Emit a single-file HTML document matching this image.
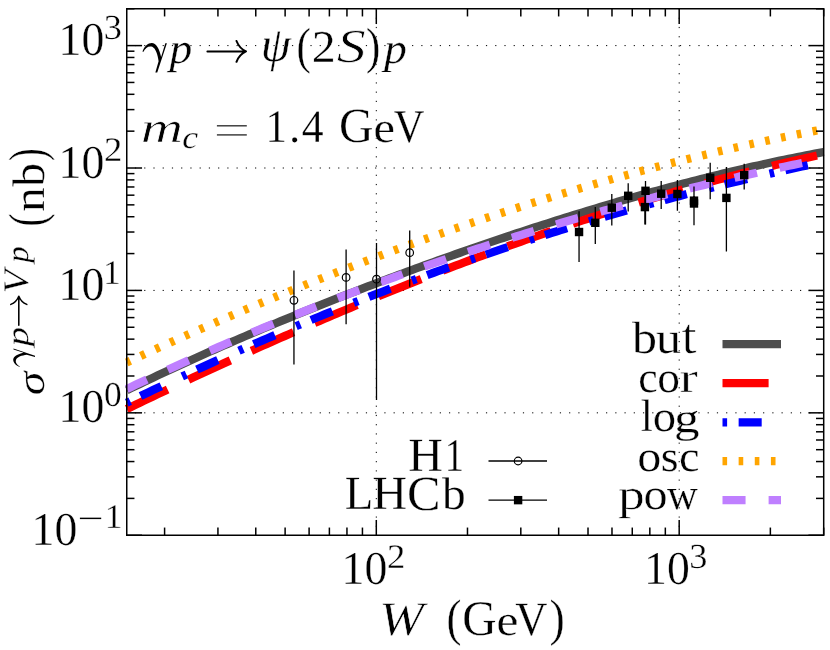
<!DOCTYPE html>
<html><head><meta charset="utf-8"><title>chart</title>
<style>html,body{margin:0;padding:0;background:#fff;}svg{display:block;}text{font-family:"Liberation Serif",serif;fill:#000;text-rendering:geometricPrecision;stroke:#fff;stroke-width:0.3px;paint-order:fill stroke;}</style></head><body>
<svg width="830" height="650" viewBox="0 0 830 650">
<rect x="0" y="0" width="830" height="650" fill="#fff"/>
<defs><clipPath id="ax"><rect x="123.75" y="8.75" width="700.75" height="526.50"/></clipPath><filter id="gs" x="0" y="0" width="830" height="650" filterUnits="userSpaceOnUse" color-interpolation-filters="sRGB"><feColorMatrix type="saturate" values="0"/></filter></defs>
<g stroke="#000" stroke-width="1.0" fill="none" stroke-dasharray="1.2,8.037">
<line x1="376.30" y1="535.25" x2="376.30" y2="8.75" stroke-dashoffset="0.9"/>
<line x1="679.19" y1="535.25" x2="679.19" y2="8.75" stroke-dashoffset="0.9"/>
<line x1="126.75" y1="412.84" x2="823.7" y2="412.84" stroke-dashoffset="1.05"/>
<line x1="126.75" y1="290.42" x2="823.7" y2="290.42" stroke-dashoffset="1.05"/>
<line x1="126.75" y1="168.01" x2="823.7" y2="168.01" stroke-dashoffset="1.05"/>
<line x1="126.75" y1="45.60" x2="823.7" y2="45.60" stroke-dashoffset="1.05"/>
</g>
<g clip-path="url(#ax)" fill="none" stroke-linejoin="round">
<path d="M126.75,390.26 L131.13,388.13 L135.52,386.02 L139.90,383.91 L144.28,381.82 L148.67,379.73 L153.05,377.66 L157.43,375.60 L161.82,373.54 L166.20,371.50 L170.58,369.46 L174.97,367.43 L179.35,365.42 L183.73,363.41 L188.12,361.41 L192.50,359.42 L196.88,357.44 L201.27,355.47 L205.65,353.51 L210.03,351.55 L214.42,349.61 L218.80,347.67 L223.18,345.75 L227.57,343.83 L231.95,341.92 L236.33,340.01 L240.72,338.12 L245.10,336.23 L249.48,334.35 L253.87,332.48 L258.25,330.62 L262.63,328.77 L267.02,326.92 L271.40,325.08 L275.78,323.25 L280.17,321.43 L284.55,319.61 L288.93,317.80 L293.32,316.00 L297.70,314.21 L302.08,312.42 L306.47,310.64 L310.85,308.87 L315.23,307.11 L319.62,305.35 L324.00,303.60 L328.38,301.86 L332.77,300.12 L337.15,298.39 L341.53,296.67 L345.92,294.96 L350.30,293.25 L354.68,291.55 L359.07,289.85 L363.45,288.17 L367.83,286.49 L372.22,284.81 L376.60,283.14 L380.98,281.48 L385.37,279.83 L389.75,278.18 L394.13,276.54 L398.52,274.91 L402.90,273.28 L407.28,271.66 L411.67,270.05 L416.05,268.44 L420.43,266.84 L424.82,265.25 L429.20,263.66 L433.58,262.08 L437.97,260.50 L442.35,258.94 L446.73,257.38 L451.12,255.82 L455.50,254.27 L459.88,252.73 L464.27,251.20 L468.65,249.67 L473.03,248.15 L477.42,246.64 L481.80,245.13 L486.18,243.63 L490.57,242.13 L494.95,240.64 L499.33,239.16 L503.72,237.69 L508.10,236.22 L512.48,234.76 L516.87,233.31 L521.25,231.86 L525.63,230.42 L530.02,228.99 L534.40,227.56 L538.78,226.14 L543.17,224.73 L547.55,223.33 L551.93,221.93 L556.32,220.54 L560.70,219.15 L565.08,217.78 L569.47,216.41 L573.85,215.05 L578.23,213.69 L582.62,212.35 L587.00,211.01 L591.38,209.68 L595.77,208.35 L600.15,207.04 L604.53,205.73 L608.92,204.43 L613.30,203.14 L617.68,201.85 L622.07,200.58 L626.45,199.31 L630.83,198.05 L635.22,196.80 L639.60,195.55 L643.98,194.32 L648.37,193.09 L652.75,191.87 L657.13,190.66 L661.52,189.46 L665.90,188.27 L670.28,187.09 L674.67,185.91 L679.05,184.75 L683.43,183.59 L687.82,182.44 L692.20,181.31 L696.58,180.18 L700.97,179.06 L705.35,177.95 L709.73,176.85 L714.12,175.76 L718.50,174.68 L722.88,173.61 L727.27,172.55 L731.65,171.50 L736.03,170.46 L740.42,169.43 L744.80,168.42 L749.18,167.41 L753.57,166.41 L757.95,165.43 L762.33,164.45 L766.72,163.49 L771.10,162.54 L775.48,161.59 L779.87,160.67 L784.25,159.75 L788.63,158.84 L793.02,157.95 L797.40,157.07 L801.78,156.20 L806.17,155.34 L810.55,154.49 L814.93,153.66 L819.32,152.84 L823.70,152.03" stroke="#4d4d4d" stroke-width="8.3"/>
<path d="M126.75,409.01 L131.13,406.89 L135.52,404.78 L139.90,402.68 L144.28,400.58 L148.67,398.49 L153.05,396.40 L157.43,394.31 L161.82,392.23 L166.20,390.16 L170.58,388.09 L174.97,386.02 L179.35,383.96 L183.73,381.91 L188.12,379.86 L192.50,377.81 L196.88,375.77 L201.27,373.74 L205.65,371.71 L210.03,369.68 L214.42,367.66 L218.80,365.65 L223.18,363.64 L227.57,361.64 L231.95,359.64 L236.33,357.65 L240.72,355.66 L245.10,353.68 L249.48,351.70 L253.87,349.73 L258.25,347.77 L262.63,345.81 L267.02,343.86 L271.40,341.91 L275.78,339.97 L280.17,338.03 L284.55,336.10 L288.93,334.18 L293.32,332.26 L297.70,330.35 L302.08,328.44 L306.47,326.54 L310.85,324.64 L315.23,322.76 L319.62,320.87 L324.00,319.00 L328.38,317.13 L332.77,315.26 L337.15,313.41 L341.53,311.55 L345.92,309.71 L350.30,307.87 L354.68,306.04 L359.07,304.21 L363.45,302.39 L367.83,300.58 L372.22,298.77 L376.60,296.97 L380.98,295.18 L385.37,293.39 L389.75,291.61 L394.13,289.84 L398.52,288.07 L402.90,286.31 L407.28,284.56 L411.67,282.81 L416.05,281.07 L420.43,279.34 L424.82,277.62 L429.20,275.90 L433.58,274.19 L437.97,272.48 L442.35,270.78 L446.73,269.09 L451.12,267.41 L455.50,265.73 L459.88,264.06 L464.27,262.40 L468.65,260.75 L473.03,259.10 L477.42,257.46 L481.80,255.83 L486.18,254.20 L490.57,252.59 L494.95,250.98 L499.33,249.37 L503.72,247.78 L508.10,246.19 L512.48,244.61 L516.87,243.04 L521.25,241.48 L525.63,239.92 L530.02,238.37 L534.40,236.83 L538.78,235.30 L543.17,233.77 L547.55,232.25 L551.93,230.74 L556.32,229.24 L560.70,227.75 L565.08,226.26 L569.47,224.78 L573.85,223.31 L578.23,221.85 L582.62,220.40 L587.00,218.96 L591.38,217.52 L595.77,216.09 L600.15,214.67 L604.53,213.26 L608.92,211.86 L613.30,210.46 L617.68,209.07 L622.07,207.70 L626.45,206.33 L630.83,204.97 L635.22,203.61 L639.60,202.27 L643.98,200.93 L648.37,199.61 L652.75,198.29 L657.13,196.98 L661.52,195.68 L665.90,194.39 L670.28,193.11 L674.67,191.83 L679.05,190.57 L683.43,189.31 L687.82,188.07 L692.20,186.83 L696.58,185.60 L700.97,184.38 L705.35,183.17 L709.73,181.97 L714.12,180.78 L718.50,179.60 L722.88,178.42 L727.27,177.26 L731.65,176.11 L736.03,174.96 L740.42,173.82 L744.80,172.70 L749.18,171.58 L753.57,170.47 L757.95,169.38 L762.33,168.29 L766.72,167.21 L771.10,166.14 L775.48,165.08 L779.87,164.03 L784.25,162.99 L788.63,161.96 L793.02,160.94 L797.40,159.93 L801.78,158.93 L806.17,157.94 L810.55,156.96 L814.93,155.99 L819.32,155.03 L823.70,154.08" stroke="#ff0000" stroke-width="8.3" stroke-dasharray="46.11,23.055" stroke-dashoffset="0.8"/>
<path d="M126.75,402.79 L131.13,400.66 L135.52,398.53 L139.90,396.41 L144.28,394.30 L148.67,392.20 L153.05,390.10 L157.43,388.02 L161.82,385.94 L166.20,383.87 L170.58,381.80 L174.97,379.75 L179.35,377.70 L183.73,375.67 L188.12,373.64 L192.50,371.61 L196.88,369.60 L201.27,367.60 L205.65,365.60 L210.03,363.61 L214.42,361.63 L218.80,359.65 L223.18,357.69 L227.57,355.73 L231.95,353.78 L236.33,351.84 L240.72,349.91 L245.10,347.99 L249.48,346.07 L253.87,344.16 L258.25,342.26 L262.63,340.37 L267.02,338.48 L271.40,336.61 L275.78,334.74 L280.17,332.88 L284.55,331.02 L288.93,329.18 L293.32,327.34 L297.70,325.51 L302.08,323.69 L306.47,321.88 L310.85,320.07 L315.23,318.28 L319.62,316.49 L324.00,314.71 L328.38,312.93 L332.77,311.17 L337.15,309.41 L341.53,307.66 L345.92,305.92 L350.30,304.19 L354.68,302.46 L359.07,300.74 L363.45,299.03 L367.83,297.33 L372.22,295.63 L376.60,293.95 L380.98,292.27 L385.37,290.60 L389.75,288.93 L394.13,287.28 L398.52,285.63 L402.90,283.99 L407.28,282.36 L411.67,280.73 L416.05,279.12 L420.43,277.51 L424.82,275.91 L429.20,274.32 L433.58,272.73 L437.97,271.15 L442.35,269.58 L446.73,268.02 L451.12,266.47 L455.50,264.92 L459.88,263.38 L464.27,261.85 L468.65,260.32 L473.03,258.81 L477.42,257.30 L481.80,255.80 L486.18,254.31 L490.57,252.82 L494.95,251.34 L499.33,249.87 L503.72,248.41 L508.10,246.96 L512.48,245.51 L516.87,244.07 L521.25,242.64 L525.63,241.22 L530.02,239.80 L534.40,238.39 L538.78,236.99 L543.17,235.59 L547.55,234.21 L551.93,232.83 L556.32,231.46 L560.70,230.10 L565.08,228.74 L569.47,227.39 L573.85,226.05 L578.23,224.72 L582.62,223.39 L587.00,222.07 L591.38,220.76 L595.77,219.46 L600.15,218.16 L604.53,216.88 L608.92,215.60 L613.30,214.32 L617.68,213.06 L622.07,211.80 L626.45,210.55 L630.83,209.30 L635.22,208.07 L639.60,206.84 L643.98,205.62 L648.37,204.41 L652.75,203.20 L657.13,202.00 L661.52,200.81 L665.90,199.63 L670.28,198.45 L674.67,197.28 L679.05,196.12 L683.43,194.96 L687.82,193.82 L692.20,192.68 L696.58,191.54 L700.97,190.42 L705.35,189.30 L709.73,188.19 L714.12,187.09 L718.50,185.99 L722.88,184.91 L727.27,183.82 L731.65,182.75 L736.03,181.68 L740.42,180.63 L744.80,179.57 L749.18,178.53 L753.57,177.49 L757.95,176.46 L762.33,175.44 L766.72,174.42 L771.10,173.42 L775.48,172.42 L779.87,171.42 L784.25,170.44 L788.63,169.46 L793.02,168.48 L797.40,167.52 L801.78,166.56 L806.17,165.61 L810.55,164.67 L814.93,163.73 L819.32,162.80 L823.70,161.88" stroke="#0000ff" stroke-width="8.3" stroke-dasharray="4.611,11.5275,23.055,23.055" stroke-dashoffset="0.8"/>
<path d="M126.75,362.45 L131.13,360.42 L135.52,358.39 L139.90,356.37 L144.28,354.35 L148.67,352.34 L153.05,350.34 L157.43,348.34 L161.82,346.35 L166.20,344.37 L170.58,342.39 L174.97,340.42 L179.35,338.46 L183.73,336.50 L188.12,334.54 L192.50,332.60 L196.88,330.66 L201.27,328.73 L205.65,326.80 L210.03,324.88 L214.42,322.97 L218.80,321.07 L223.18,319.17 L227.57,317.27 L231.95,315.39 L236.33,313.51 L240.72,311.64 L245.10,309.77 L249.48,307.91 L253.87,306.06 L258.25,304.21 L262.63,302.37 L267.02,300.54 L271.40,298.72 L275.78,296.90 L280.17,295.09 L284.55,293.28 L288.93,291.49 L293.32,289.69 L297.70,287.91 L302.08,286.13 L306.47,284.36 L310.85,282.60 L315.23,280.84 L319.62,279.10 L324.00,277.35 L328.38,275.62 L332.77,273.89 L337.15,272.17 L341.53,270.46 L345.92,268.75 L350.30,267.05 L354.68,265.36 L359.07,263.67 L363.45,262.00 L367.83,260.33 L372.22,258.66 L376.60,257.01 L380.98,255.36 L385.37,253.71 L389.75,252.08 L394.13,250.45 L398.52,248.83 L402.90,247.22 L407.28,245.62 L411.67,244.02 L416.05,242.43 L420.43,240.85 L424.82,239.27 L429.20,237.70 L433.58,236.14 L437.97,234.59 L442.35,233.04 L446.73,231.50 L451.12,229.97 L455.50,228.45 L459.88,226.94 L464.27,225.43 L468.65,223.93 L473.03,222.44 L477.42,220.95 L481.80,219.47 L486.18,218.00 L490.57,216.54 L494.95,215.09 L499.33,213.64 L503.72,212.20 L508.10,210.77 L512.48,209.35 L516.87,207.93 L521.25,206.52 L525.63,205.12 L530.02,203.73 L534.40,202.35 L538.78,200.97 L543.17,199.60 L547.55,198.24 L551.93,196.89 L556.32,195.55 L560.70,194.21 L565.08,192.88 L569.47,191.56 L573.85,190.25 L578.23,188.94 L582.62,187.65 L587.00,186.36 L591.38,185.08 L595.77,183.81 L600.15,182.54 L604.53,181.29 L608.92,180.04 L613.30,178.80 L617.68,177.57 L622.07,176.34 L626.45,175.13 L630.83,173.92 L635.22,172.72 L639.60,171.53 L643.98,170.35 L648.37,169.18 L652.75,168.01 L657.13,166.86 L661.52,165.71 L665.90,164.57 L670.28,163.44 L674.67,162.31 L679.05,161.20 L683.43,160.09 L687.82,158.99 L692.20,157.90 L696.58,156.82 L700.97,155.75 L705.35,154.69 L709.73,153.63 L714.12,152.58 L718.50,151.54 L722.88,150.52 L727.27,149.49 L731.65,148.48 L736.03,147.48 L740.42,146.48 L744.80,145.50 L749.18,144.52 L753.57,143.55 L757.95,142.59 L762.33,141.64 L766.72,140.70 L771.10,139.76 L775.48,138.84 L779.87,137.92 L784.25,137.01 L788.63,136.11 L793.02,135.22 L797.40,134.34 L801.78,133.47 L806.17,132.61 L810.55,131.76 L814.93,130.91 L819.32,130.07 L823.70,129.25" stroke="#ffa500" stroke-width="8.3" stroke-dasharray="4.611,11.5275" stroke-dashoffset="0.7"/>
<path d="M126.75,389.01 L131.13,386.91 L135.52,384.82 L139.90,382.74 L144.28,380.66 L148.67,378.60 L153.05,376.55 L157.43,374.50 L161.82,372.47 L166.20,370.44 L170.58,368.43 L174.97,366.42 L179.35,364.42 L183.73,362.43 L188.12,360.45 L192.50,358.48 L196.88,356.52 L201.27,354.56 L205.65,352.62 L210.03,350.68 L214.42,348.76 L218.80,346.84 L223.18,344.93 L227.57,343.03 L231.95,341.14 L236.33,339.26 L240.72,337.39 L245.10,335.52 L249.48,333.67 L253.87,331.82 L258.25,329.98 L262.63,328.15 L267.02,326.33 L271.40,324.52 L275.78,322.72 L280.17,320.92 L284.55,319.14 L288.93,317.36 L293.32,315.59 L297.70,313.83 L302.08,312.08 L306.47,310.34 L310.85,308.60 L315.23,306.87 L319.62,305.16 L324.00,303.45 L328.38,301.75 L332.77,300.05 L337.15,298.37 L341.53,296.69 L345.92,295.03 L350.30,293.37 L354.68,291.72 L359.07,290.07 L363.45,288.44 L367.83,286.81 L372.22,285.19 L376.60,283.58 L380.98,281.98 L385.37,280.39 L389.75,278.80 L394.13,277.23 L398.52,275.66 L402.90,274.10 L407.28,272.54 L411.67,271.00 L416.05,269.46 L420.43,267.93 L424.82,266.41 L429.20,264.90 L433.58,263.39 L437.97,261.89 L442.35,260.40 L446.73,258.92 L451.12,257.45 L455.50,255.98 L459.88,254.52 L464.27,253.07 L468.65,251.63 L473.03,250.19 L477.42,248.77 L481.80,247.35 L486.18,245.93 L490.57,244.53 L494.95,243.13 L499.33,241.74 L503.72,240.36 L508.10,238.99 L512.48,237.62 L516.87,236.26 L521.25,234.91 L525.63,233.57 L530.02,232.23 L534.40,230.90 L538.78,229.58 L543.17,228.26 L547.55,226.96 L551.93,225.66 L556.32,224.36 L560.70,223.08 L565.08,221.80 L569.47,220.53 L573.85,219.27 L578.23,218.01 L582.62,216.76 L587.00,215.52 L591.38,214.28 L595.77,213.06 L600.15,211.84 L604.53,210.62 L608.92,209.42 L613.30,208.22 L617.68,207.02 L622.07,205.84 L626.45,204.66 L630.83,203.49 L635.22,202.33 L639.60,201.17 L643.98,200.02 L648.37,198.87 L652.75,197.74 L657.13,196.61 L661.52,195.49 L665.90,194.37 L670.28,193.26 L674.67,192.16 L679.05,191.06 L683.43,189.97 L687.82,188.89 L692.20,187.81 L696.58,186.74 L700.97,185.68 L705.35,184.63 L709.73,183.58 L714.12,182.53 L718.50,181.50 L722.88,180.47 L727.27,179.44 L731.65,178.43 L736.03,177.42 L740.42,176.41 L744.80,175.42 L749.18,174.43 L753.57,173.44 L757.95,172.46 L762.33,171.49 L766.72,170.53 L771.10,169.57 L775.48,168.61 L779.87,167.67 L784.25,166.73 L788.63,165.79 L793.02,164.86 L797.40,163.94 L801.78,163.03 L806.17,162.12 L810.55,161.21 L814.93,160.32 L819.32,159.42 L823.70,158.54" stroke="#bf7fff" stroke-width="8.3" stroke-dasharray="23.055,23.055" stroke-dashoffset="0.8"/>
</g>
<g stroke="#000" stroke-width="1.3" clip-path="url(#ax)">
<line x1="293.95" y1="270.5" x2="293.95" y2="364.6"/>
<line x1="346.1" y1="249.4" x2="346.1" y2="324.3"/>
<line x1="376.5" y1="242.9" x2="376.5" y2="400.0"/>
<line x1="409.7" y1="230.4" x2="409.7" y2="286.7"/>
<line x1="579.05" y1="211.3" x2="579.05" y2="261.9"/>
<line x1="595.3" y1="207.0" x2="595.3" y2="243.9"/>
<line x1="611.8" y1="194.0" x2="611.8" y2="225.6"/>
<line x1="628.2" y1="183.3" x2="628.2" y2="211.4"/>
<line x1="645.5" y1="181.1" x2="645.5" y2="224.6"/>
<line x1="644.9" y1="190" x2="644.9" y2="224.6"/>
<line x1="661.2" y1="181.1" x2="661.2" y2="208.9"/>
<line x1="677.4" y1="180.0" x2="677.4" y2="210.8"/>
<line x1="694.0" y1="186.6" x2="694.0" y2="225.3"/>
<line x1="694.0" y1="196" x2="694.0" y2="207"/>
<line x1="710.2" y1="162.7" x2="710.2" y2="199.2"/>
<line x1="726.4" y1="167.0" x2="726.4" y2="251.6"/>
<line x1="744.2" y1="163.7" x2="744.2" y2="189.5"/>
</g>
<circle cx="293.95" cy="300.3" r="3.8" fill="none" stroke="#000" stroke-width="1.2"/>
<circle cx="346.1" cy="277.4" r="3.8" fill="none" stroke="#000" stroke-width="1.2"/>
<circle cx="376.5" cy="279.2" r="3.8" fill="none" stroke="#000" stroke-width="1.2"/>
<circle cx="409.7" cy="252.7" r="3.8" fill="none" stroke="#000" stroke-width="1.2"/>
<rect x="574.85" y="227.80" width="8.4" height="8.4" fill="#000"/>
<rect x="591.10" y="218.60" width="8.4" height="8.4" fill="#000"/>
<rect x="607.60" y="203.50" width="8.4" height="8.4" fill="#000"/>
<rect x="624.00" y="191.60" width="8.4" height="8.4" fill="#000"/>
<rect x="641.30" y="186.60" width="8.4" height="8.4" fill="#000"/>
<rect x="640.70" y="202.90" width="8.4" height="8.4" fill="#000"/>
<rect x="657.00" y="189.50" width="8.4" height="8.4" fill="#000"/>
<rect x="673.20" y="189.80" width="8.4" height="8.4" fill="#000"/>
<rect x="689.80" y="196.45" width="8.4" height="8.4" fill="#000"/>
<rect x="689.80" y="199.30" width="8.4" height="8.4" fill="#000"/>
<rect x="706.00" y="173.60" width="8.4" height="8.4" fill="#000"/>
<rect x="722.20" y="193.70" width="8.4" height="8.4" fill="#000"/>
<rect x="740.00" y="170.90" width="8.4" height="8.4" fill="#000"/>
<rect x="126.75" y="8.75" width="696.95" height="526.50" stroke="#000" stroke-width="1.5" fill="none"/>
<g stroke="#000" stroke-width="1.5" fill="none">
<line x1="164.59" y1="535.25" x2="164.59" y2="527.55"/>
<line x1="164.59" y1="8.75" x2="164.59" y2="16.45"/>
<line x1="217.93" y1="535.25" x2="217.93" y2="527.55"/>
<line x1="217.93" y1="8.75" x2="217.93" y2="16.45"/>
<line x1="255.77" y1="535.25" x2="255.77" y2="527.55"/>
<line x1="255.77" y1="8.75" x2="255.77" y2="16.45"/>
<line x1="285.12" y1="535.25" x2="285.12" y2="527.55"/>
<line x1="285.12" y1="8.75" x2="285.12" y2="16.45"/>
<line x1="309.11" y1="535.25" x2="309.11" y2="527.55"/>
<line x1="309.11" y1="8.75" x2="309.11" y2="16.45"/>
<line x1="329.38" y1="535.25" x2="329.38" y2="527.55"/>
<line x1="329.38" y1="8.75" x2="329.38" y2="16.45"/>
<line x1="346.95" y1="535.25" x2="346.95" y2="527.55"/>
<line x1="346.95" y1="8.75" x2="346.95" y2="16.45"/>
<line x1="362.44" y1="535.25" x2="362.44" y2="527.55"/>
<line x1="362.44" y1="8.75" x2="362.44" y2="16.45"/>
<line x1="376.30" y1="535.25" x2="376.30" y2="519.95"/>
<line x1="376.30" y1="8.75" x2="376.30" y2="24.05"/>
<line x1="467.48" y1="535.25" x2="467.48" y2="527.55"/>
<line x1="467.48" y1="8.75" x2="467.48" y2="16.45"/>
<line x1="520.81" y1="535.25" x2="520.81" y2="527.55"/>
<line x1="520.81" y1="8.75" x2="520.81" y2="16.45"/>
<line x1="558.66" y1="535.25" x2="558.66" y2="527.55"/>
<line x1="558.66" y1="8.75" x2="558.66" y2="16.45"/>
<line x1="588.01" y1="535.25" x2="588.01" y2="527.55"/>
<line x1="588.01" y1="8.75" x2="588.01" y2="16.45"/>
<line x1="611.99" y1="535.25" x2="611.99" y2="527.55"/>
<line x1="611.99" y1="8.75" x2="611.99" y2="16.45"/>
<line x1="632.27" y1="535.25" x2="632.27" y2="527.55"/>
<line x1="632.27" y1="8.75" x2="632.27" y2="16.45"/>
<line x1="649.83" y1="535.25" x2="649.83" y2="527.55"/>
<line x1="649.83" y1="8.75" x2="649.83" y2="16.45"/>
<line x1="665.33" y1="535.25" x2="665.33" y2="527.55"/>
<line x1="665.33" y1="8.75" x2="665.33" y2="16.45"/>
<line x1="679.19" y1="535.25" x2="679.19" y2="519.95"/>
<line x1="679.19" y1="8.75" x2="679.19" y2="24.05"/>
<line x1="770.36" y1="535.25" x2="770.36" y2="527.55"/>
<line x1="770.36" y1="8.75" x2="770.36" y2="16.45"/>
<line x1="823.70" y1="535.25" x2="823.70" y2="527.55"/>
<line x1="823.70" y1="8.75" x2="823.70" y2="16.45"/>
<line x1="126.75" y1="535.25" x2="142.05" y2="535.25"/>
<line x1="823.7" y1="535.25" x2="808.4000000000001" y2="535.25"/>
<line x1="126.75" y1="498.40" x2="134.45" y2="498.40"/>
<line x1="823.7" y1="498.40" x2="816.0" y2="498.40"/>
<line x1="126.75" y1="476.84" x2="134.45" y2="476.84"/>
<line x1="823.7" y1="476.84" x2="816.0" y2="476.84"/>
<line x1="126.75" y1="461.55" x2="134.45" y2="461.55"/>
<line x1="823.7" y1="461.55" x2="816.0" y2="461.55"/>
<line x1="126.75" y1="449.69" x2="134.45" y2="449.69"/>
<line x1="823.7" y1="449.69" x2="816.0" y2="449.69"/>
<line x1="126.75" y1="439.99" x2="134.45" y2="439.99"/>
<line x1="823.7" y1="439.99" x2="816.0" y2="439.99"/>
<line x1="126.75" y1="431.80" x2="134.45" y2="431.80"/>
<line x1="823.7" y1="431.80" x2="816.0" y2="431.80"/>
<line x1="126.75" y1="424.70" x2="134.45" y2="424.70"/>
<line x1="823.7" y1="424.70" x2="816.0" y2="424.70"/>
<line x1="126.75" y1="418.44" x2="134.45" y2="418.44"/>
<line x1="823.7" y1="418.44" x2="816.0" y2="418.44"/>
<line x1="126.75" y1="412.84" x2="142.05" y2="412.84"/>
<line x1="823.7" y1="412.84" x2="808.4000000000001" y2="412.84"/>
<line x1="126.75" y1="375.99" x2="134.45" y2="375.99"/>
<line x1="823.7" y1="375.99" x2="816.0" y2="375.99"/>
<line x1="126.75" y1="354.43" x2="134.45" y2="354.43"/>
<line x1="823.7" y1="354.43" x2="816.0" y2="354.43"/>
<line x1="126.75" y1="339.14" x2="134.45" y2="339.14"/>
<line x1="823.7" y1="339.14" x2="816.0" y2="339.14"/>
<line x1="126.75" y1="327.27" x2="134.45" y2="327.27"/>
<line x1="823.7" y1="327.27" x2="816.0" y2="327.27"/>
<line x1="126.75" y1="317.58" x2="134.45" y2="317.58"/>
<line x1="823.7" y1="317.58" x2="816.0" y2="317.58"/>
<line x1="126.75" y1="309.39" x2="134.45" y2="309.39"/>
<line x1="823.7" y1="309.39" x2="816.0" y2="309.39"/>
<line x1="126.75" y1="302.29" x2="134.45" y2="302.29"/>
<line x1="823.7" y1="302.29" x2="816.0" y2="302.29"/>
<line x1="126.75" y1="296.03" x2="134.45" y2="296.03"/>
<line x1="823.7" y1="296.03" x2="816.0" y2="296.03"/>
<line x1="126.75" y1="290.42" x2="142.05" y2="290.42"/>
<line x1="823.7" y1="290.42" x2="808.4000000000001" y2="290.42"/>
<line x1="126.75" y1="253.58" x2="134.45" y2="253.58"/>
<line x1="823.7" y1="253.58" x2="816.0" y2="253.58"/>
<line x1="126.75" y1="232.02" x2="134.45" y2="232.02"/>
<line x1="823.7" y1="232.02" x2="816.0" y2="232.02"/>
<line x1="126.75" y1="216.73" x2="134.45" y2="216.73"/>
<line x1="823.7" y1="216.73" x2="816.0" y2="216.73"/>
<line x1="126.75" y1="204.86" x2="134.45" y2="204.86"/>
<line x1="823.7" y1="204.86" x2="816.0" y2="204.86"/>
<line x1="126.75" y1="195.17" x2="134.45" y2="195.17"/>
<line x1="823.7" y1="195.17" x2="816.0" y2="195.17"/>
<line x1="126.75" y1="186.97" x2="134.45" y2="186.97"/>
<line x1="823.7" y1="186.97" x2="816.0" y2="186.97"/>
<line x1="126.75" y1="179.88" x2="134.45" y2="179.88"/>
<line x1="823.7" y1="179.88" x2="816.0" y2="179.88"/>
<line x1="126.75" y1="173.61" x2="134.45" y2="173.61"/>
<line x1="823.7" y1="173.61" x2="816.0" y2="173.61"/>
<line x1="126.75" y1="168.01" x2="142.05" y2="168.01"/>
<line x1="823.7" y1="168.01" x2="808.4000000000001" y2="168.01"/>
<line x1="126.75" y1="131.16" x2="134.45" y2="131.16"/>
<line x1="823.7" y1="131.16" x2="816.0" y2="131.16"/>
<line x1="126.75" y1="109.61" x2="134.45" y2="109.61"/>
<line x1="823.7" y1="109.61" x2="816.0" y2="109.61"/>
<line x1="126.75" y1="94.31" x2="134.45" y2="94.31"/>
<line x1="823.7" y1="94.31" x2="816.0" y2="94.31"/>
<line x1="126.75" y1="82.45" x2="134.45" y2="82.45"/>
<line x1="823.7" y1="82.45" x2="816.0" y2="82.45"/>
<line x1="126.75" y1="72.76" x2="134.45" y2="72.76"/>
<line x1="823.7" y1="72.76" x2="816.0" y2="72.76"/>
<line x1="126.75" y1="64.56" x2="134.45" y2="64.56"/>
<line x1="823.7" y1="64.56" x2="816.0" y2="64.56"/>
<line x1="126.75" y1="57.46" x2="134.45" y2="57.46"/>
<line x1="823.7" y1="57.46" x2="816.0" y2="57.46"/>
<line x1="126.75" y1="51.20" x2="134.45" y2="51.20"/>
<line x1="823.7" y1="51.20" x2="816.0" y2="51.20"/>
<line x1="126.75" y1="45.60" x2="142.05" y2="45.60"/>
<line x1="823.7" y1="45.60" x2="808.4000000000001" y2="45.60"/>
<line x1="126.75" y1="8.75" x2="134.45" y2="8.75"/>
<line x1="823.7" y1="8.75" x2="816.0" y2="8.75"/>
</g>
<g opacity="0.999">
<text transform="translate(169.42,63.07) scale(0.9897,0.9365)" font-size="46" font-style="italic">p</text>
<text transform="translate(260.80,61.37) scale(1.0528,1.0693)" font-size="46" font-style="italic">ψ</text>
<text transform="translate(296.53,63.46) scale(0.9362,1.1012)" font-size="46">(</text>
<text transform="translate(311.71,62.40) scale(1.0432,0.9902)" font-size="46">2</text>
<text transform="translate(336.87,62.48) scale(1.2598,1.0323)" font-size="46" font-style="italic" style="stroke-width:0.64px">S</text>
<text transform="translate(366.00,63.46) scale(0.9362,1.1012)" font-size="46">)</text>
<text transform="translate(384.03,62.93) scale(0.9938,0.9302)" font-size="46" font-style="italic">p</text>
<text transform="translate(140.87,141.60) scale(1.2746,0.9333)" font-size="46" font-style="italic" style="stroke-width:0.66px">m</text>
<text transform="translate(182.16,148.00) scale(1.0357,0.9231)" font-size="34.5" font-style="italic">c</text>
<text transform="translate(265.58,141.60) scale(0.9292,1.0116)" font-size="46">1</text>
<text transform="translate(289.05,141.60) scale(0.9818,1.0000)" font-size="46">.</text>
<text transform="translate(301.65,141.60) scale(0.9506,1.0116)" font-size="46">4</text>
<text transform="translate(339.02,142.07) scale(1.0387,1.0645)" font-size="46">G</text>
<text transform="translate(373.46,141.83) scale(1.0529,0.9303)" font-size="46">e</text>
<text transform="translate(393.74,141.54) scale(0.9240,1.0179)" font-size="46">V</text>
<text transform="translate(378.89,634.61) scale(1.1716,1.0472)" font-size="46" font-style="italic" style="stroke-width:0.52px">W</text>
<text transform="translate(446.54,635.38) scale(0.9787,1.1205)" font-size="46">(</text>
<text transform="translate(462.13,635.06) scale(1.0353,1.0839)" font-size="46">G</text>
<text transform="translate(496.53,634.83) scale(1.0706,0.9393)" font-size="46">e</text>
<text transform="translate(515.32,634.62) scale(0.9674,1.0407)" font-size="46">V</text>
<text transform="translate(549.41,635.38) scale(0.9957,1.1205)" font-size="46">)</text>
<text transform="translate(58.52,55.09) scale(0.9938,1.0258)" font-size="46">10</text>
<text transform="translate(103.66,38.94) scale(1.0526,1.0217)" font-size="34.5">3</text>
<text transform="translate(58.52,177.50) scale(0.9938,1.0258)" font-size="46">10</text>
<text transform="translate(103.91,161.11) scale(1.0618,0.9978)" font-size="34.5">2</text>
<text transform="translate(58.52,299.91) scale(0.9938,1.0258)" font-size="46">10</text>
<text transform="translate(103.11,283.52) scale(1.0286,0.9978)" font-size="34.5">1</text>
<text transform="translate(58.52,422.32) scale(0.9938,1.0258)" font-size="46">10</text>
<text transform="translate(104.11,406.18) scale(1.0305,1.0108)" font-size="34.5">0</text>
<text transform="translate(31.52,544.74) scale(0.9938,1.0258)" font-size="46">10</text>
<text transform="translate(104.71,528.35) scale(1.0286,0.9978)" font-size="34.5">1</text>
<text transform="translate(341.52,584.19) scale(0.9938,1.0258)" font-size="46">10</text>
<text transform="translate(386.91,567.80) scale(1.0618,0.9978)" font-size="34.5">2</text>
<text transform="translate(644.12,584.19) scale(0.9938,1.0258)" font-size="46">10</text>
<text transform="translate(689.26,568.04) scale(1.0526,1.0217)" font-size="34.5">3</text>
<text transform="translate(632.10,353.01) scale(1.0871,0.9877)" font-size="46">b</text>
<text transform="translate(655.96,353.02) scale(1.0897,0.9581)" font-size="46">u</text>
<text transform="translate(681.51,352.96) scale(1.1750,1.0895)" font-size="46" style="stroke-width:0.53px">t</text>
<text transform="translate(638.14,392.03) scale(0.9507,0.9483)" font-size="46">c</text>
<text transform="translate(657.27,392.03) scale(0.9897,0.9483)" font-size="46">o</text>
<text transform="translate(679.61,391.90) scale(1.1929,0.9333)" font-size="46" style="stroke-width:0.55px">r</text>
<text transform="translate(640.75,431.30) scale(0.9488,0.9844)" font-size="46">l</text>
<text transform="translate(652.82,431.43) scale(1.0154,0.9483)" font-size="46">o</text>
<text transform="translate(674.08,432.06) scale(1.1100,0.9045)" font-size="46">g</text>
<text transform="translate(637.37,470.53) scale(1.0462,0.9483)" font-size="46">o</text>
<text transform="translate(660.71,470.53) scale(0.9965,0.9483)" font-size="46">s</text>
<text transform="translate(679.04,470.53) scale(1.0029,0.9483)" font-size="46">c</text>
<text transform="translate(617.93,509.37) scale(1.1659,0.9365)" font-size="46" style="stroke-width:0.52px">p</text>
<text transform="translate(643.57,509.43) scale(1.0462,0.9483)" font-size="46">o</text>
<text transform="translate(667.00,509.43) scale(0.9273,0.9488)" font-size="46">w</text>
<text transform="translate(408.20,470.50) scale(1.0426,1.0400)" font-size="46">H</text>
<text transform="translate(444.68,470.50) scale(0.8308,1.0182)" font-size="46">1</text>
<text transform="translate(344.73,509.30) scale(1.0167,1.0400)" font-size="46">L</text>
<text transform="translate(372.19,509.30) scale(1.0492,1.0400)" font-size="46">H</text>
<text transform="translate(407.01,509.57) scale(1.0933,1.0645)" font-size="46">C</text>
<text transform="translate(442.10,509.40) scale(1.0306,0.9969)" font-size="46">b</text>
</g>
<g filter="url(#gs)"><g transform="rotate(-90)">
<text transform="translate(-395.26,43.97) scale(1.0400,0.8577)" font-size="46" font-style="italic">σ</text>
<text transform="translate(-346.16,27.73) scale(1.1178,0.9064)" font-size="34.5" font-style="italic">p</text>
<text transform="translate(-293.34,27.68) scale(1.1111,1.0435)" font-size="34.5" font-style="italic">V</text>
<text transform="translate(-262.69,27.73) scale(0.9534,0.9064)" font-size="34.5" font-style="italic">p</text>
<text transform="translate(-226.40,44.37) scale(0.8511,1.1108)" font-size="46">(</text>
<text transform="translate(-211.88,43.80) scale(1.0776,0.9563)" font-size="46">n</text>
<text transform="translate(-186.70,43.80) scale(1.0306,0.9938)" font-size="46">b</text>
<text transform="translate(-160.95,44.37) scale(0.8340,1.1108)" font-size="46">)</text>
<path d="M-366.80,19.53 C-365.55,15.59 -362.55,13.20 -359.83,13.20 C-356.57,13.20 -353.95,17.45 -352.76,23.67 L-349.60,13.47 L-348.40,13.47 L-355.69,35.00 L-357.11,35.00 L-354.66,26.76 C-355.26,21.87 -356.78,17.51 -359.40,16.12 C-361.90,15.06 -364.51,16.55 -366.26,19.85 Z" fill="#000"/>
<path d="M-325.3,18.8 H-296.8 M-304.4,10.8 Q-302.2,16.5 -296.3,18.8 Q-302.2,21.1 -304.4,26.8" stroke="#000" stroke-width="1.55" fill="none" stroke-linecap="round" stroke-linejoin="round"/>
</g></g>
<rect x="79.9" y="517.65" width="21.3" height="1.45" fill="#000"/>
<path d="M142.50,51.49 C144.16,46.15 148.13,42.90 151.74,42.90 C156.07,42.90 159.54,48.68 161.12,57.12 L165.31,43.26 L166.90,43.26 L157.23,72.50 L155.35,72.50 L158.60,61.31 C157.80,54.67 155.78,48.75 152.32,46.87 C149.00,45.43 145.53,47.45 143.22,51.92 Z" fill="#000"/>
<path d="M207.4,51.4 H245.6 M236.5,41.0 Q239.4,48.4 246.0,51.4 Q239.4,54.4 236.5,61.8" stroke="#000" stroke-width="2.0" fill="none" stroke-linecap="round" stroke-linejoin="round"/>
<rect x="216.9" y="125.1" width="29.9" height="1.4" fill="#000" opacity="0.8"/><rect x="216.9" y="134.2" width="29.9" height="1.4" fill="#000" opacity="0.8"/>
<line x1="722.5" y1="344.2" x2="781" y2="344.2" stroke="#4d4d4d" stroke-width="8.3"/>
<line x1="722.5" y1="383.1" x2="781" y2="383.1" stroke="#ff0000" stroke-width="8.3" stroke-dasharray="46.11,23.055"/>
<line x1="722.5" y1="422.3" x2="781" y2="422.3" stroke="#0000ff" stroke-width="8.3" stroke-dasharray="4.611,11.5275,23.055,23.055"/>
<line x1="722.5" y1="461.2" x2="781" y2="461.2" stroke="#ffa500" stroke-width="8.3" stroke-dasharray="4.611,11.5275"/>
<line x1="722.5" y1="500.1" x2="781" y2="500.1" stroke="#bf7fff" stroke-width="8.3" stroke-dasharray="23.055,23.055"/>
<line x1="488.5" y1="461.0" x2="547" y2="461.0" stroke="#000" stroke-width="1.3"/>
<line x1="488.5" y1="500.05" x2="547" y2="500.05" stroke="#000" stroke-width="1.3"/>
<circle cx="518.1" cy="461.0" r="3.8" fill="none" stroke="#000" stroke-width="1.2"/>
<rect x="513.90" y="495.95" width="8.4" height="8.4" fill="#000"/>
</svg></body></html>
